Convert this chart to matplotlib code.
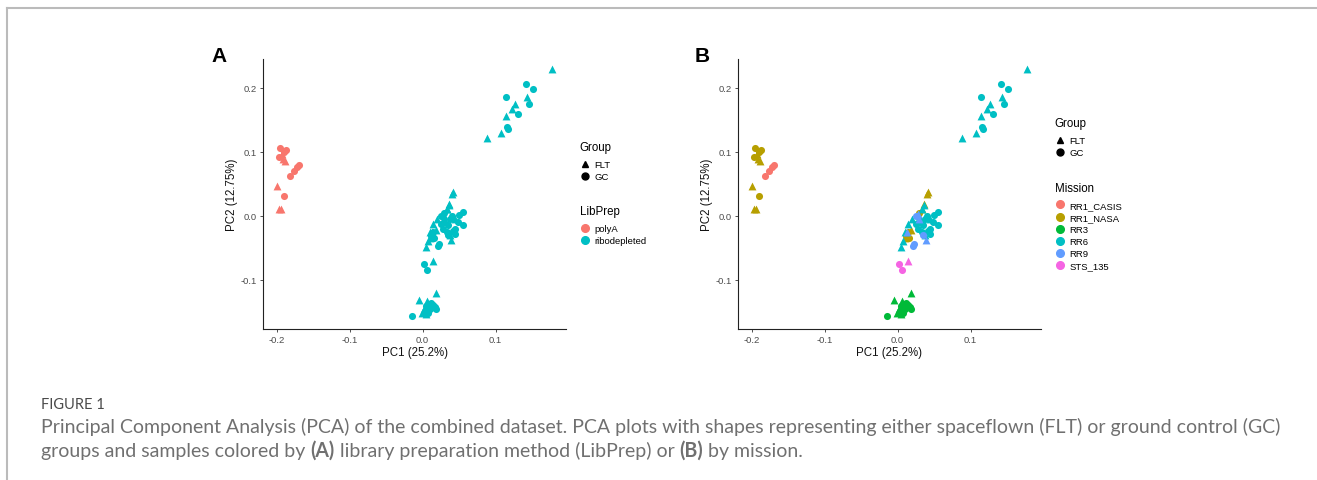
import matplotlib
matplotlib.use("Agg")
from matplotlib import pyplot as plt
from matplotlib.lines import Line2D

# PCA scores, one row of values per mission / prep block
pc1 = [
    -0.181, -0.176, -0.1726, -0.169,                                   # RR1_CASIS polyA GC
    -0.1954, -0.187, -0.196, -0.190, -0.1895,                          # RR1_NASA polyA GC
    -0.193, -0.191, -0.188, -0.200, -0.1963, -0.1936,                  # RR1_NASA polyA FLT
    0.0138, 0.016, 0.012, 0.030,                                       # RR1_NASA ribo GC
    0.0413, 0.040, 0.0367, 0.034, 0.010, 0.018,                        # RR1_NASA ribo FLT
    -0.0138, 0.017, 0.015, 0.010, 0.005, 0.012, 0.008, 0.019, 0.003,   # RR3 GC
    0.0183, -0.0046, -0.001, 0.005, 0.010, 0.006, 0.002,               # RR3 FLT
    0.142, 0.1516, 0.1142, 0.1457, 0.1306, 0.1155, 0.1175,             # RR6 GC (upper)
    0.1776, 0.1425, 0.1265, 0.1228, 0.115, 0.108, 0.0877,              # RR6 FLT (upper)
    0.055, 0.055, 0.048, 0.045, 0.042, 0.038, 0.035, 0.030, 0.028,
    0.040, 0.050, 0.033, 0.044, 0.025,                                 # RR6 GC (centre)
    0.033, 0.036, 0.0146, 0.010, 0.0046, 0.008, 0.020, 0.030, 0.038,
    0.045,                                                             # RR6 FLT (centre)
    0.025, 0.0206, 0.022, 0.035,                                       # RR9 GC
    0.030, 0.039, 0.013, 0.028,                                        # RR9 FLT
    0.0023, 0.0055,                                                    # STS_135 GC
    0.0147,                                                            # STS_135 FLT
]
pc2 = [
    0.062, 0.070, 0.0756, 0.079,
    0.1057, 0.1026, 0.091, 0.099, 0.0316,
    0.096, 0.089, 0.086, 0.047, 0.011, 0.010,
    -0.025, -0.035, -0.031, 0.005,
    0.0378, 0.034, 0.0187, 0.010, -0.034, -0.022,
    -0.157, -0.142, -0.139, -0.146, -0.141, -0.136, -0.151, -0.146, -0.149,
    -0.1197, -0.1311, -0.151, -0.153, -0.141, -0.133, -0.146,
    0.206, 0.198, 0.1855, 0.175, 0.1585, 0.138, 0.136,
    0.2285, 0.186, 0.175, 0.166, 0.155, 0.1285, 0.1218,
    0.0067, -0.014, -0.010, -0.020, -0.023, -0.005, -0.015, -0.010, -0.020,
    0.000, 0.002, -0.025, -0.028, -0.012,
    0.011, 0.017, -0.0124, -0.025, -0.049, -0.040, -0.005, 0.000, -0.030,
    -0.005,
    -0.001, -0.047, -0.044, -0.030,
    -0.005, -0.038, -0.025, 0.003,
    -0.0746, -0.085,
    -0.071,
]
group = (["GC"] * 4 + ["GC"] * 5 + ["FLT"] * 6 + ["GC"] * 4 + ["FLT"] * 6
         + ["GC"] * 9 + ["FLT"] * 7 + ["GC"] * 7 + ["FLT"] * 7
         + ["GC"] * 14 + ["FLT"] * 10 + ["GC"] * 4 + ["FLT"] * 4
         + ["GC"] * 2 + ["FLT"] * 1)
mission = (["RR1_CASIS"] * 4 + ["RR1_NASA"] * 21 + ["RR3"] * 16
           + ["RR6"] * 38 + ["RR9"] * 8 + ["STS_135"] * 3)
libprep = ["polyA"] * 15 + ["ribodepleted"] * (len(pc1) - 15)

group_levels = ["FLT", "GC"]
group_markers = {"FLT": "^", "GC": "o"}
libprep_levels = ["polyA", "ribodepleted"]
libprep_colors = ["#F8766D", "#00BFC4"]
mission_levels = ["RR1_CASIS", "RR1_NASA", "RR3", "RR6", "RR9", "STS_135"]
mission_colors = ["#F8766D", "#B79F00", "#00BA38", "#00BFC4", "#619CFF", "#F564E3"]

plt.rcParams["font.family"] = ["Liberation Sans", "DejaVu Sans"]

W, H = 1317, 481
fig = plt.figure(figsize=(W / 100, H / 100), dpi=100)


def px(x0, y0, x1, y1):
    # pixel box (top-left origin) -> figure fraction rect
    return [x0 / W, 1 - y1 / H, (x1 - x0) / W, (y1 - y0) / H]


def pca_panel(rect, colour_by, levels, colours, title, letter, letter_x,
              g_top, c_top):
    ax = fig.add_axes(rect)
    cmap = dict(zip(levels, colours))
    for i in range(len(pc1)):
        m = group_markers[group[i]]
        ax.scatter(pc1[i], pc2[i], s=26 if m == "o" else 32, marker=m,
                   color=cmap[colour_by[i]], linewidths=0, zorder=3)
    ax.set_xlim(-0.2185, 0.1965)
    ax.set_ylim(-0.1765, 0.2445)
    ax.set_xticks([-0.2, -0.1, 0.0, 0.1])
    ax.set_xticklabels(["-0.2", "-0.1", "0.0", "0.1"])
    ax.set_yticks([-0.1, 0.0, 0.1, 0.2])
    ax.set_yticklabels(["-0.1", "0.0", "0.1", "0.2"])
    for s in ["top", "right"]:
        ax.spines[s].set_visible(False)
    for s in ["left", "bottom"]:
        ax.spines[s].set_linewidth(0.8)
        ax.spines[s].set_color("#222222")
    ax.tick_params(length=2.5, width=0.6, color="#333333", labelsize=6.8,
                   labelcolor="#4D4D4D", pad=2)
    ax.set_xlabel("PC1 (25.2%)", fontsize=8.3, labelpad=1.5, color="#111111")
    ax.set_ylabel("PC2 (12.75%)", fontsize=8.3, labelpad=2, color="#111111")
    ax.text(letter_x, 0.993, letter, transform=ax.transAxes, fontsize=15,
            fontweight="bold", ha="left", va="baseline")

    g_handles = [Line2D([], [], ls="", marker=group_markers[g], color="black",
                        markersize=5) for g in group_levels]
    leg1 = ax.legend(g_handles, group_levels, title="Group", loc="upper left",
                     bbox_to_anchor=(1.045, g_top), frameon=False, fontsize=6.8,
                     title_fontsize=8.3, handletextpad=0.4, labelspacing=0.33,
                     borderaxespad=0, borderpad=0, handlelength=1.2,
                     alignment="left")
    leg1._legend_box.sep = 5
    ax.add_artist(leg1)
    c_handles = [Line2D([], [], ls="", marker="o", color=c, markersize=5.5)
                 for c in colours]
    leg2 = ax.legend(c_handles, levels, title=title, loc="upper left",
                     bbox_to_anchor=(1.045, c_top), frameon=False, fontsize=6.8,
                     title_fontsize=8.3, handletextpad=0.4, labelspacing=0.33,
                     borderaxespad=0, borderpad=0, handlelength=1.2,
                     alignment="left")
    leg2._legend_box.sep = 5
    return ax


ax_a = pca_panel(px(263, 60, 566, 330), libprep, libprep_levels, libprep_colors,
                 "LibPrep", "A", -0.169, 0.695, 0.458)
ax_b = pca_panel(px(738, 60, 1041, 330), mission, mission_levels, mission_colors,
                 "Mission", "B", -0.142, 0.785, 0.545)

# frame lines of the figure box
fig.add_artist(Line2D([7 / W, 1], [1 - 9 / H, 1 - 9 / H], color="#BBBBBB", lw=1.5))
fig.add_artist(Line2D([7 / W, 7 / W], [0, 1 - 9 / H], color="#BBBBBB", lw=1.5))

# caption
cap_font = ["Lato", "DejaVu Sans"]
cap_col = "#707070"
line1 = ("Principal Component Analysis (PCA) of the combined dataset. PCA plots with "
         "shapes representing either spaceflown (FLT) or ground control (GC)")
renderer = fig.canvas.get_renderer()

# size the caption font so the first line spans the same width as the original
probe = fig.text(0, 0, line1, fontsize=10, family=cap_font)
cap_size = 10 * 1245 / probe.get_window_extent(renderer).width
probe.remove()

fig.text(41 / W, 1 - 405 / H, "FIGURE 1", fontsize=10.5, color="#4A4A4A",
         family=cap_font, va="center", ha="left")


def run_text(x, y, parts):
    for txt, bold in parts:
        t = fig.text(x, y, txt, fontsize=cap_size, color=cap_col, family=cap_font,
                     va="baseline", ha="left",
                     fontweight="bold" if bold else "normal")
        bb = t.get_window_extent(renderer)
        x = bb.x1 / W


run_text(41 / W, 1 - 433 / H, [(line1, False)])
run_text(41 / W, 1 - 457 / H, [
    ("groups and samples colored by ", False), ("(A)", True),
    (" library preparation method (LibPrep) or ", False), ("(B)", True),
    (" by mission.", False)])

fig.savefig("out.png", dpi=100)
